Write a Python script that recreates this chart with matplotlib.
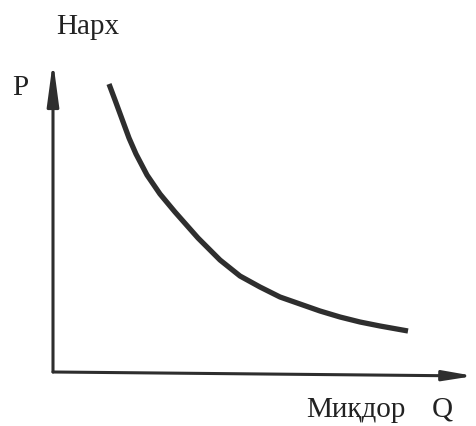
import matplotlib.pyplot as plt

# нуқтаҳои хатти талабот (миқдор, нарх)
quantity = [56, 62, 69, 76, 83, 94, 107, 122, 145, 167, 187, 207, 227,
            247, 267, 287, 307, 327, 355]
price = [288, 272, 253, 234, 218, 197, 178, 160, 134, 112, 96, 85, 75,
         68, 61, 55, 50, 46, 41]

price_label = "Нарх"
quantity_label = "Миқдор"

W, H = 476, 427
fig = plt.figure(figsize=(W / 100, H / 100), dpi=100)
# origin at pixel (53, 373); 1 data unit = 1 pixel
ax = fig.add_axes([53 / W, (H - 373) / H, 420 / W, 315 / H])
ax.set_xlim(0, 420)
ax.set_ylim(0, 315)
ax.axis("off")

col = "#2e2e2e"

# axes with arrowheads
ax.annotate("", xy=(0, 311), xytext=(0, 0),
            arrowprops=dict(arrowstyle="-|>,head_length=2.6,head_width=0.35",
                            color=col, lw=2.2, shrinkA=0, shrinkB=0),
            annotation_clip=False)
ax.annotate("", xy=(421, -4), xytext=(0, 0),
            arrowprops=dict(arrowstyle="-|>,head_length=1.8,head_width=0.3",
                            color=col, lw=2.2, shrinkA=0, shrinkB=0),
            annotation_clip=False)

ax.plot(quantity, price, color=col, lw=3.8, solid_capstyle="butt",
        solid_joinstyle="round")

fs = 21
ff = "Liberation Serif"
tc = "#222222"
fig.text(88 / W, 1 - 27 / H, price_label, ha="center", va="center",
         fontsize=fs, family=ff, color=tc)
fig.text(20 / W, 1 - 88 / H, "P", ha="center", va="center",
         fontsize=fs, family=ff, color=tc)
fig.text(356 / W, 1 - 410 / H, quantity_label, ha="center", va="center",
         fontsize=fs, family=ff, color=tc)
fig.text(442 / W, 1 - 410 / H, "Q", ha="center", va="center",
         fontsize=fs, family=ff, color=tc)

fig.savefig("out.png", dpi=100)
